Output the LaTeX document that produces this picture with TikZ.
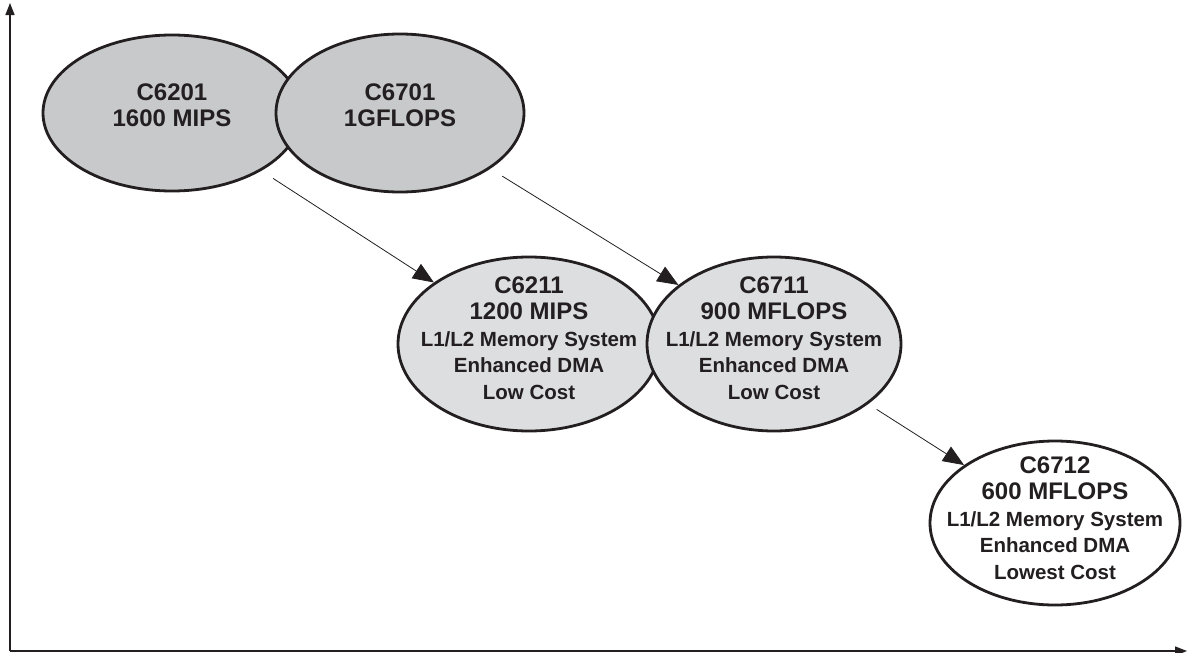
\documentclass[tikz,border=0pt]{standalone}
\usepackage{fontspec}
\setmainfont{Liberation Sans}
\usetikzlibrary{shapes.geometric}
\usetikzlibrary{arrows.meta}

\definecolor{chipdark}{RGB}{200,201,203}
\definecolor{chiplight}{RGB}{221,222,224}
\definecolor{inkgray}{RGB}{35,31,32}
\newcommand{\hd}[1]{{\fontsize{24}{26.5}\selectfont #1}}

\tikzset{
  chip/.style={ellipse, draw=inkgray, line width=2.8pt, inner sep=0pt, minimum width=258pt, minimum height=174pt},
  chiptext/.style={align=center, text=inkgray, font=\bfseries\fontsize{20.5}{26.5}\selectfont},
  feed/.style={-{Triangle[length=21pt,width=17pt]}, line width=0.8pt, inkgray, shorten <=14pt},
  axis/.style={-{Triangle[length=12pt,width=9pt]}, line width=1.4pt, inkgray}
}

\begin{document}
\begin{tikzpicture}[x=1pt,y=-1pt]
\useasboundingbox (0,0) rectangle (1187,653);

% axes
\coordinate (O) at (10,651);
\coordinate (Y) at (10,3);
\coordinate (X) at (1187,651);
\draw[axis] (O) -- (Y);
\draw[axis] (O) -- (X);

% first generation
\node[chip, fill=chipdark, minimum width=258pt, minimum height=156pt] (c6201) at (172,113) {};
\node[chip, fill=chipdark, minimum width=248pt, minimum height=158pt] (c6701) at (400,113) {};
\node[chiptext] (t6201) at ([yshift=8pt]c6201.center) {\hd{C6201}\\\hd{1600 MIPS}};
\node[chiptext] (t6701) at ([yshift=8pt]c6701.center) {\hd{C6701}\\\hd{1GFLOPS}};

% second generation
\node[chip, fill=chiplight, minimum width=262pt] (c6211) at (529,344) {};
\node[chip, fill=chiplight, minimum width=254pt] (c6711) at (774,344) {};
\node[chiptext] (t6211) at ([yshift=6pt]c6211.center) {\hd{C6211}\\\hd{1200 MIPS}\\L1/L2 Memory System\\Enhanced DMA\\Low Cost};
\node[chiptext] (t6711) at ([yshift=6pt]c6711.center) {\hd{C6711}\\\hd{900 MFLOPS}\\L1/L2 Memory System\\Enhanced DMA\\Low Cost};

% low cost
\node[chip, fill=white, minimum width=250pt, minimum height=164pt] (c6712) at (1055,523) {};
\node[chiptext] (t6712) at ([yshift=5pt]c6712.center) {\hd{C6712}\\\hd{600 MFLOPS}\\L1/L2 Memory System\\Enhanced DMA\\Lowest Cost};

\draw[feed] (c6201) -- (c6211);
\draw[feed] (c6701) -- (c6711);
\draw[feed, shorten <=10pt] (c6711) -- (c6712);
\end{tikzpicture}
\end{document}
